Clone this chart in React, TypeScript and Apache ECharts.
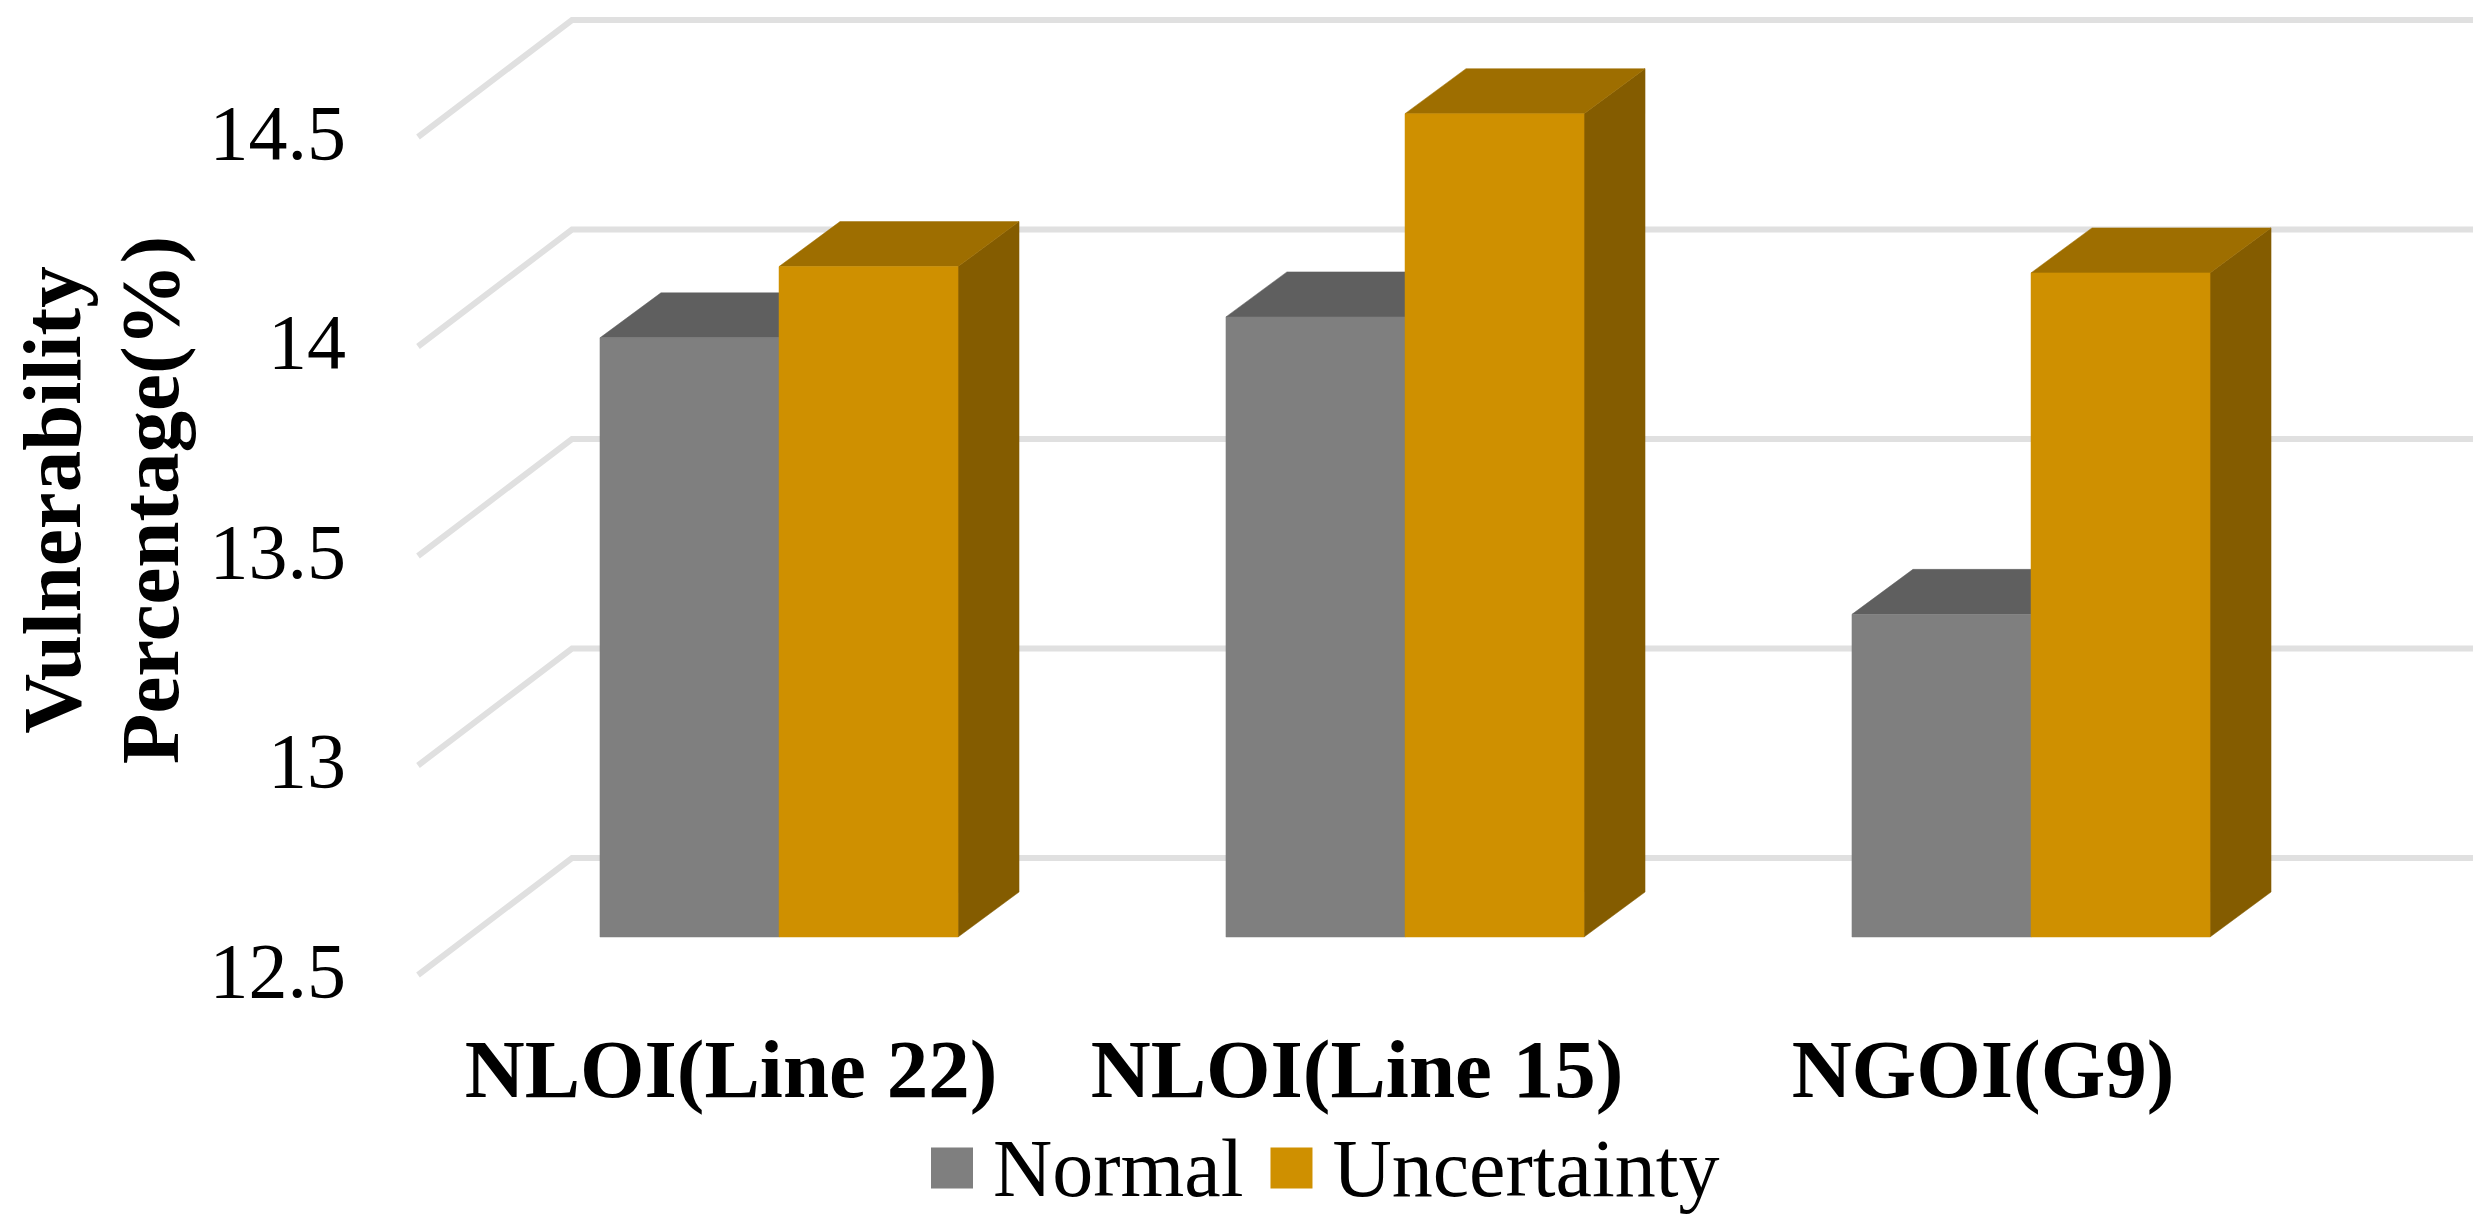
import React, { useEffect, useRef } from "react";
import * as echarts from "echarts";

const categories = ["NLOI(Line 22)", "NLOI(Line 15)", "NGOI(G9)"];
const normalValues = [13.93, 13.98, 13.27];
const uncertaintyValues = [14.1, 14.465, 14.085];
const axisTicks = [12.5, 13, 13.5, 14, 14.5];

const FONT = '"Liberation Serif", "Times New Roman", serif';

function barSeries(name: string, values: number[], front: string, top: string, side: string, slot: number) {
  return {
    name,
    type: "custom",
    coordinateSystem: "cartesian2d",
    itemStyle: { color: front },
    encode: { x: 0, y: 1 },
    data: values.map((v, i) => [i, v]),
    z: 3 + slot,
    renderItem: (_params: any, api: any) => {
      const i = api.value(0);
      const v = api.value(1);
      const shiftX = 48;
      const shiftY = -38;
      const depthX = 61;
      const depthY = -45;
      const band = api.size([1, 0])[0];
      const w = band * 0.286;
      const cx = api.coord([i, v])[0] + shiftX;
      const yTop = api.coord([i, v])[1] + shiftY;
      const yBase = api.coord([i, axisTicks[0]])[1] + shiftY;
      const x0 = cx + (slot - 1) * w;
      const x1 = x0 + w;
      const poly = (points: number[][], fill: string) => ({
        type: "polygon",
        shape: { points },
        style: { fill, stroke: fill, lineWidth: 0.5 },
      });
      return {
        type: "group",
        children: [
          poly([[x1, yTop], [x1 + depthX, yTop + depthY], [x1 + depthX, yBase + depthY], [x1, yBase]], side),
          poly([[x0, yTop], [x0 + depthX, yTop + depthY], [x1 + depthX, yTop + depthY], [x1, yTop]], top),
          poly([[x0, yTop], [x1, yTop], [x1, yBase], [x0, yBase]], front),
        ],
      };
    },
  };
}

export default function App() {
  const ref = useRef<HTMLDivElement>(null);
  useEffect(() => {
    document.body.style.margin = "0";
    const chart = echarts.init(ref.current!, undefined, { renderer: "svg" });
    chart.setOption({
      animation: false,
      backgroundColor: "#ffffff",
      grid: { left: 418, top: 137, width: 1878, height: 838, containLabel: false, outerBoundsMode: "none" },
      legend: {
        left: 926,
        top: 1122,
        icon: "rect",
        itemWidth: 42,
        itemHeight: 41,
        itemGap: 27,
        data: ["Normal", "Uncertainty"],
        textStyle: { fontFamily: FONT, fontSize: 82, color: "#000", padding: [0, 0, 0, 15] },
      },
      xAxis: {
        type: "category",
        data: categories,
        axisLine: { show: false },
        axisTick: { show: false },
        splitLine: { show: false },
        axisLabel: {
          interval: 0,
          margin: 52,
          fontFamily: FONT,
          fontWeight: "bold",
          fontSize: 83,
          color: "#000",
        },
      },
      yAxis: {
        type: "value",
        min: axisTicks[0],
        max: axisTicks[axisTicks.length - 1],
        interval: 0.5,
        axisLine: { show: false },
        axisTick: { show: false },
        splitLine: { show: false },
        axisLabel: { margin: 72, fontFamily: FONT, fontSize: 78, color: "#000", verticalAlign: "bottom", lineHeight: 10 },
        name: "Vulnerability\nPercentage(%)",
        nameLocation: "middle",
        nameRotate: 90,
        nameGap: 208,
        nameTextStyle: {
          fontFamily: FONT,
          fontWeight: "bold",
          fontSize: 83,
          lineHeight: 98,
          color: "#000",
          padding: [0, 0, 0, 112],
        },
      },
      series: [
        {
          name: "wall",
          type: "custom",
          coordinateSystem: "cartesian2d",
          encode: { x: 0, y: 1 },
          data: axisTicks.map((t) => [0, t]),
          z: 1,
          silent: true,
          renderItem: (params: any, api: any) => {
            const y = api.coord([0, api.value(1)])[1];
            const left = params.coordSys.x;
            const right = left + params.coordSys.width;
            return {
              type: "polyline",
              shape: { points: [[left, y], [left + 154, y - 117], [right + 177, y - 117]] },
              style: { fill: "none", stroke: "#e0e0e0", lineWidth: 6 },
            };
          },
        },
        barSeries("Normal", normalValues, "#7f7f7f", "#5f5f5f", "#5a5a5a", 0),
        barSeries("Uncertainty", uncertaintyValues, "#cf9000", "#9e6e00", "#845c00", 1),
      ],
    });
    return () => chart.dispose();
  }, []);
  return <div ref={ref} style={{ width: 2473, height: 1228 }} />;
}
